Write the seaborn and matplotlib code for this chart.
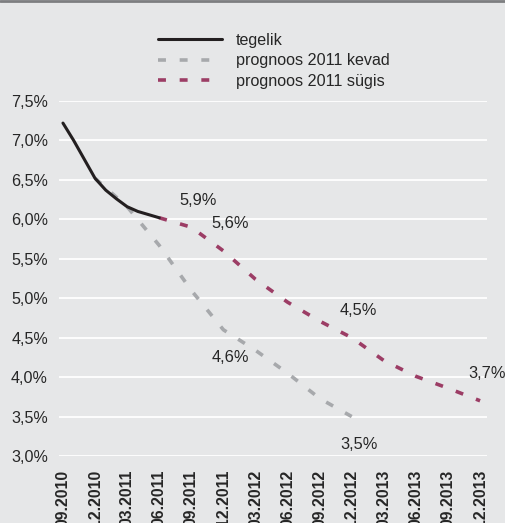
import matplotlib
matplotlib.use("Agg")
import matplotlib.pyplot as plt
from matplotlib.ticker import FuncFormatter, FixedLocator
import seaborn as sns
import pandas as pd

# Quarter labels on the x axis (one every three months, month index 0 = 09.2010)
quarter_labels = ["09.2010", "12.2010", "03.2011", "06.2011", "09.2011", "12.2011",
                  "03.2012", "06.2012", "09.2012", "12.2012", "03.2013", "06.2013",
                  "09.2013", "12.2013"]

# Actual unemployment rate, monthly, 09.2010 - 06.2011
actual_month = [0, 1, 2, 3, 4, 5, 6, 7, 8, 9]
actual_value = [7.22, 7.00, 6.76, 6.52, 6.37, 6.26, 6.16, 6.10, 6.06, 6.02]

# Spring 2011 forecast (quarterly)
spring_month = [3, 6, 9, 12, 15, 18, 21, 24, 27]
spring_value = [6.52, 6.16, 5.67, 5.10, 4.6, 4.34, 4.05, 3.73, 3.5]

# Autumn 2011 forecast (quarterly)
autumn_month = [9, 12, 15, 18, 21, 24, 27, 30, 33, 36, 39]
autumn_value = [6.02, 5.9, 5.6, 5.24, 4.95, 4.71, 4.5, 4.21, 4.01, 3.86, 3.7]

# Points that carry a value label
spring_labelled = [15, 27]
autumn_labelled = [12, 15, 27, 39]

BG = "#e6e7e8"
TXT = "#262626"
BLACK = "#231f20"
GREY = "#a7a9ac"
MAROON = "#9c3d65"

sns.set_theme(style="white")
plt.rcParams["font.family"] = ["Liberation Sans", "DejaVu Sans"]

fig = plt.figure(figsize=(5.06, 5.23), dpi=100, facecolor=BG)
ax = fig.add_axes([0.1166, 0.1281, 0.9625 - 0.1166, 0.8069 - 0.1281])
ax.set_facecolor(BG)

df_actual = pd.DataFrame({"m": actual_month, "v": actual_value})
df_spring = pd.DataFrame({"m": spring_month, "v": spring_value})
df_autumn = pd.DataFrame({"m": autumn_month, "v": autumn_value})

dash = (0, (2.2, 3.8))
sns.lineplot(data=df_spring, x="m", y="v", ax=ax, color=GREY, lw=2.6,
             linestyle=dash, dash_capstyle="butt", label="prognoos 2011 kevad", zorder=3)
sns.lineplot(data=df_autumn, x="m", y="v", ax=ax, color=MAROON, lw=2.6,
             linestyle=dash, dash_capstyle="butt", label="prognoos 2011 sügis", zorder=3)
sns.lineplot(data=df_actual, x="m", y="v", ax=ax, color=BLACK, lw=2.2,
             label="tegelik", zorder=4)

# Value labels
def fmt_pct(v):
    return f"{v:.1f}".replace(".", ",") + "%"

for m in spring_labelled:
    v = spring_value[spring_month.index(m)]
    ax.annotate(fmt_pct(v), (m, v), xytext=(5, -20), textcoords="offset points",
                ha="center", va="center", fontsize=11.8, color=TXT, annotation_clip=False)
for m in autumn_labelled:
    v = autumn_value[autumn_month.index(m)]
    ax.annotate(fmt_pct(v), (m, v), xytext=(5, 19.5), textcoords="offset points",
                ha="center", va="center", fontsize=11.8, color=TXT, annotation_clip=False)

# Axes, ticks and grid
ax.set_xlim(-0.37, 39.65)
ax.set_ylim(3.0, 7.5)
ax.yaxis.set_major_locator(FixedLocator([3.0 + 0.5 * i for i in range(10)]))
ax.yaxis.set_major_formatter(FuncFormatter(lambda v, p: fmt_pct(v)))
ax.set_xticks(list(range(0, 40, 3)))
ax.set_xticklabels(quarter_labels, rotation=90, fontweight="bold", fontsize=11.3,
                   color=TXT, va="top", ha="center")
ax.tick_params(axis="x", length=0, pad=10)
ax.tick_params(axis="y", length=0, pad=8, labelsize=11.6, labelcolor=TXT)
ax.grid(axis="y", color="white", lw=1.3)
ax.grid(axis="x", visible=False)
ax.set_axisbelow(True)
for s in ax.spines.values():
    s.set_visible(False)
ax.set_xlabel("")
ax.set_ylabel("")

# Legend, ordered actual first
handles, labels = ax.get_legend_handles_labels()
order = [labels.index("tegelik"), labels.index("prognoos 2011 kevad"),
         labels.index("prognoos 2011 sügis")]
ax.legend([handles[i] for i in order], [labels[i] for i in order],
          loc="upper left", bbox_to_anchor=(158 / 506, 1 - 33 / 523),
          bbox_transform=fig.transFigure, frameon=False, fontsize=11.6,
          handlelength=4.0, handletextpad=0.85, labelspacing=0.34,
          borderpad=0, borderaxespad=0, labelcolor=TXT)

# Thin frame line along the top edge of the figure
fig.add_artist(plt.Line2D([0, 1], [0.999, 0.999], transform=fig.transFigure,
                          color="#7d7e80", lw=2))

fig.savefig("out.png", dpi=100, facecolor=BG)
